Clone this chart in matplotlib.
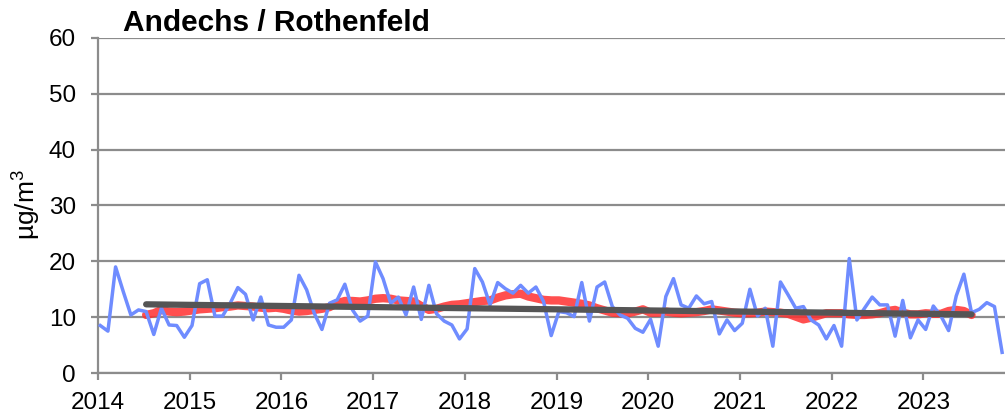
import numpy as np
import matplotlib
matplotlib.use("Agg")
import matplotlib.pyplot as plt

plt.rcParams['font.family'] = ['Liberation Sans', 'DejaVu Sans']
plt.rcParams['mathtext.default'] = 'regular'

# monthly values (µg/m³), starting Jan 2014
monthly = [
    8.5, 7.5, 19.0, 14.6, 10.4, 11.3, 11.0, 6.9, 11.6, 8.6, 8.5, 6.4,
    8.5, 16.0, 16.7, 10.2, 10.2, 12.5, 15.3, 14.1, 9.5, 13.6, 8.6, 8.2,
    8.2, 9.5, 17.5, 14.9, 10.7, 7.8, 12.5, 13.1, 15.9, 11.3, 9.3, 10.2,
    19.9, 16.9, 12.5, 13.6, 10.4, 15.4, 9.6, 15.7, 10.6, 9.3, 8.6, 6.1,
    7.9, 18.7, 16.3, 12.2, 16.2, 15.1, 14.3, 15.7, 14.3, 15.4, 12.8, 6.7,
    11.0, 10.8, 10.1, 16.2, 9.3, 15.4, 16.3, 11.9, 10.4, 9.8, 8.0, 7.3,
    9.6, 4.8, 13.7, 16.9, 12.2, 11.6, 13.8, 12.4, 12.8, 7.0, 9.5, 7.6,
    8.9, 15.0, 10.2, 11.6, 4.8, 16.3, 14.0, 11.6, 11.9, 9.5, 8.6, 6.1,
    8.5, 4.8, 20.5, 9.5, 11.6, 13.6, 12.2, 12.2, 6.6, 13.0, 6.3, 9.5,
    7.8, 12.0, 10.2, 7.6, 13.8, 17.7, 10.8, 11.4, 12.6, 11.9, 3.7,
]

# running mean, Jul 2014 .. Jul 2023
running_start = 6
running = [
    10.4, 10.7, 11.3, 11.0, 10.9, 11.0, 11.2, 11.4, 11.5, 11.6, 11.8, 11.9,
    12.1, 12.0, 11.9, 11.7, 11.6, 11.7, 11.5, 11.2, 11.0, 11.1, 11.3, 11.5,
    11.8, 12.5, 12.9, 12.9, 12.8, 13.0, 13.3, 13.4, 13.3, 13.0, 12.9, 12.8,
    12.0, 11.3, 11.5, 11.9, 12.2, 12.3, 12.5, 12.7, 12.9, 13.0, 13.5, 13.9,
    14.1, 14.2, 13.7, 13.4, 13.1, 13.0, 13.0, 12.8, 12.6, 12.4, 12.1, 11.6,
    11.2, 10.8, 10.7, 10.7, 11.0, 11.4, 10.8, 10.8, 11.0, 10.8, 10.7, 10.8,
    10.9, 11.1, 11.4, 11.2, 11.0, 10.8, 10.7, 10.7, 10.8, 11.0, 10.9, 10.8,
    10.6, 10.1, 9.6, 9.9, 10.3, 10.7, 10.7, 10.7, 10.5, 10.4, 10.4, 10.5,
    10.7, 11.1, 11.3, 10.8, 10.5, 10.5, 10.7, 10.6, 10.6, 11.1, 11.3, 11.1,
    10.4,
]

# linear trend end points
trend = [12.3, 10.5]

years = list(range(2014, 2024))

x_month = 2014 + (np.arange(len(monthly)) + 0.3) / 12
x_run = 2014 + (np.arange(running_start, running_start + len(running)) + 0.3) / 12
x_trend = [x_run[0], x_run[-1]]

fig = plt.figure(figsize=(10.05, 4.2), dpi=100)
ax = fig.add_axes([98 / 1005, 47 / 420, 907 / 1005, 335 / 420])

ax.plot(x_run, running, color="#ff3030", lw=6, alpha=0.85,
        solid_capstyle="round", zorder=2)
ax.plot(x_month, monthly, color="#6f8cff", lw=2.5, zorder=3)
ax.plot(x_trend, trend, color="#555555", lw=4.5, solid_capstyle="round", zorder=4)

ax.set_xlim(2014, 2014 + 9.89)
ax.set_ylim(0, 60)
ax.set_yticks(range(0, 61, 10))
ax.set_xticks(years)
ax.set_xticklabels([str(y) for y in years])

grid_col = "#8c8c8c"
ax.grid(axis="y", color=grid_col, lw=1.6, zorder=0)
ax.set_axisbelow(True)
for side in ("top", "right"):
    ax.spines[side].set_visible(False)
for side in ("left", "bottom"):
    ax.spines[side].set_color(grid_col)
    ax.spines[side].set_linewidth(1.6)
ax.tick_params(axis="both", direction="out", length=5, width=1.6,
               color=grid_col, labelsize=17.5, labelcolor="black")
ax.tick_params(axis="y", pad=11)
ax.tick_params(axis="x", pad=9)

fig.text(123 / 1005, 1 - 31 / 420, "Andechs / Rothenfeld", fontsize=21.5,
         fontweight="bold", va="baseline", ha="left")
fig.text(27 / 1005, 1 - 205 / 420, "µg/m$^3$", fontsize=19, rotation=90,
         ha="center", va="center")

fig.savefig("out.png", dpi=100)
